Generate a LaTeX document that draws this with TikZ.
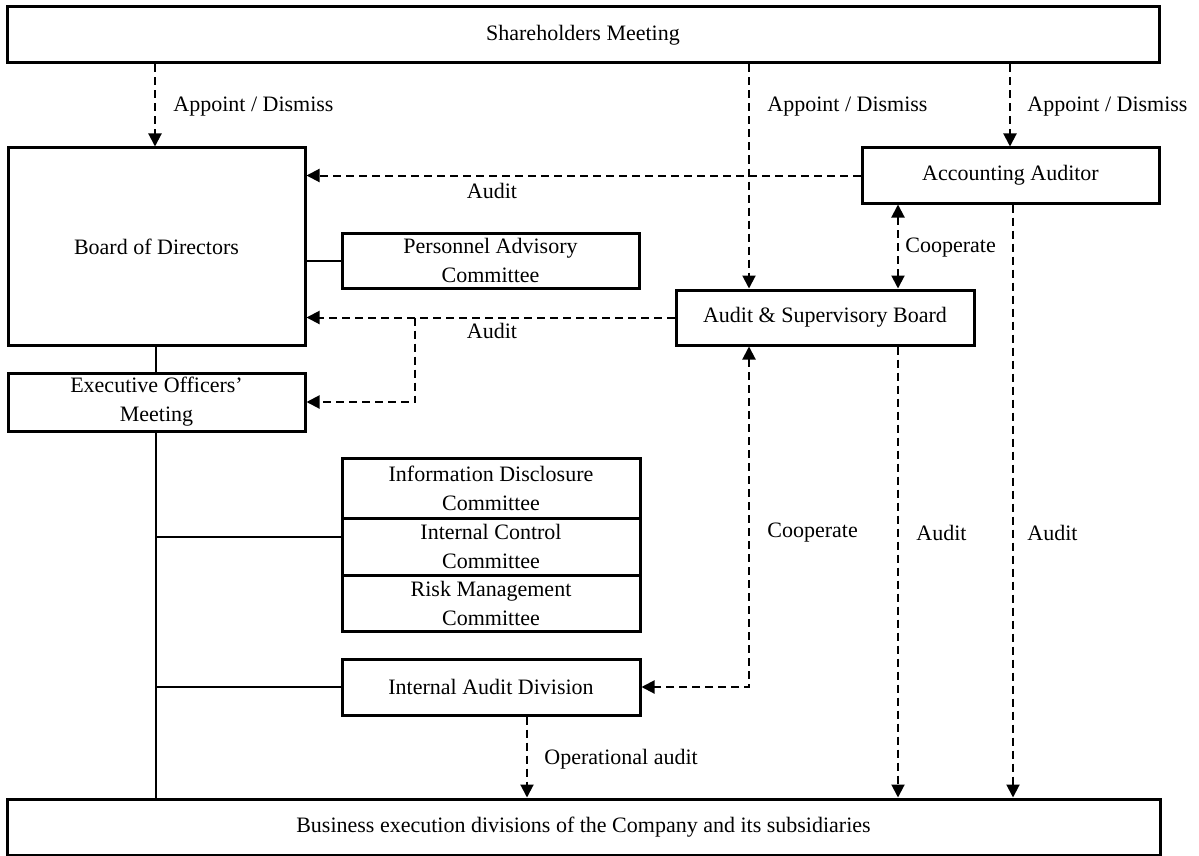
\documentclass[tikz,border=0pt]{standalone}
\usepackage{fontspec}
\setmainfont{Liberation Serif}
\usetikzlibrary{arrows.meta}
\begin{document}
\begin{tikzpicture}[x=0.5pt,y=-0.5pt,
  box/.style={draw,line width=1.5pt,inner sep=0pt,align=center,font=\fontsize{11}{14.5}\selectfont},
  lbl/.style={font=\fontsize{11}{13}\selectfont,inner sep=0pt},
  dline/.style={line width=1pt,dash pattern=on 4pt off 2.5pt},
  conn/.style={line width=1pt},
  arr/.style={-{Triangle[length=6.5pt,width=6.5pt]}},
  darr/.style={{Triangle[length=6.5pt,width=6.5pt]}-{Triangle[length=6.5pt,width=6.5pt]}}
]
\useasboundingbox (0,0) rectangle (1199,856);

% boxes
\node[box,minimum width=576pt,minimum height=28pt] (sh) at (583,35) {Shareholders Meeting};
\node[box,minimum width=148.5pt,minimum height=98.5pt] (bod) at (156.5,246.5) {Board of Directors};
\node[box,minimum width=148.5pt,minimum height=27.5pt] (aa) at (1010.5,175.5) {Accounting Auditor};
\node[box,minimum width=148.5pt,minimum height=27.5pt] (pac) at (490.5,260.5) {Personnel Advisory\\Committee};
\node[box,minimum width=149pt,minimum height=27.5pt] (asb) at (825,317.5) {Audit \& Supervisory Board};
\node[box,minimum width=148.5pt,minimum height=29pt] (eom) at (156.5,402) {Executive Officers’\\Meeting};
\node[box,minimum width=149pt,minimum height=30pt] (idc) at (491,488) {Information Disclosure\\Committee};
\node[box,minimum width=149pt,minimum height=28.5pt] (icc) at (491,546.5) {Internal Control\\Committee};
\node[box,minimum width=149pt,minimum height=28pt] (rmc) at (491,603) {Risk Management\\Committee};
\node[box,minimum width=149pt,minimum height=28pt] (iad) at (491,687) {Internal Audit Division};
\node[box,minimum width=576.5pt,minimum height=28pt] (bus) at (583.5,827) {Business execution divisions of the Company and its subsidiaries};

% column coordinates
\coordinate (cB) at (155,0);
\coordinate (cA) at (749,0);
\coordinate (cC) at (1010,0);
\coordinate (cD) at (898,0);
\coordinate (cE) at (1013,0);
\coordinate (cF) at (527,0);
\coordinate (cG) at (415,0);
\coordinate (cS) at (156,0);
\coordinate (j1) at (156,537);

% appoint / dismiss
\draw[dline,arr] (sh.south -| cB) -- (bod.north -| cB);
\node[lbl,anchor=west] (l1) at (173,107) {Appoint / Dismiss};
\draw[dline,arr] (sh.south -| cA) -- (asb.north -| cA);
\node[lbl,anchor=west] (l2) at (767,107) {Appoint / Dismiss};
\draw[dline,arr] (sh.south -| cC) -- (aa.north -| cC);
\node[lbl,anchor=west] (l3) at (1027,107) {Appoint / Dismiss};

% audits to board
\draw[dline,arr] (aa.west) -- (aa.west -| bod.east);
\node[lbl] (l4) at (492,191) {Audit};
\draw[dline,arr] (asb.west) -- (asb.west -| bod.east);
\draw[dline,arr] (asb.west -| cG) |- (eom.east);
\node[lbl] (l5) at (492,331) {Audit};

% cooperate AA - ASB
\draw[dline,darr] (aa.south -| cD) -- (asb.north -| cD);
\node[lbl,anchor=west] (l6) at (905,248) {Cooperate};

% audits to business
\draw[dline,arr] (asb.south -| cD) -- (bus.north -| cD);
\node[lbl,anchor=west] (l7) at (916,533) {Audit};
\draw[dline,arr] (aa.south -| cE) -- (bus.north -| cE);
\node[lbl,anchor=west] (l8) at (1027,533) {Audit};

% cooperate ASB - IAD
\draw[dline,darr] (asb.south -| cA) |- (iad.east);
\node[lbl,anchor=west] (l9) at (767,533) {Cooperate};

% operational audit
\draw[dline,arr] (iad.south -| cF) -- (bus.north -| cF);
\node[lbl,anchor=west] (l10) at (544,759) {Operational audit};

% solid connectors
\draw[conn] (bod.east |- pac.west) -- (pac.west);
\draw[conn] (bod.south -| cS) -- (eom.north -| cS);
\draw[conn] (eom.south -| cS) -- (bus.north -| cS);
\draw[conn] (j1) -- (j1 -| icc.west);
\draw[conn] (iad.west -| cS) -- (iad.west);
\end{tikzpicture}
\end{document}
